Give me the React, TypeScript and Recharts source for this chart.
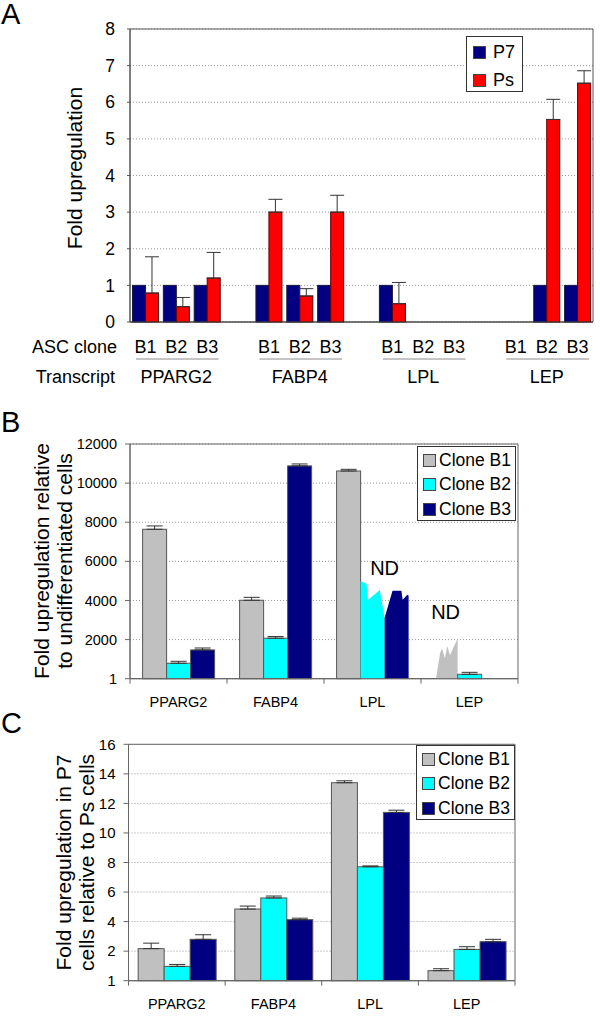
import React from "react";
import {
  BarChart,
  Bar,
  XAxis,
  YAxis,
  CartesianGrid,
  ErrorBar,
  Legend,
  ReferenceArea,
} from "recharts";

const FONT = '"Liberation Sans", Arial, Helvetica, sans-serif';

const transcripts = ["PPARG2", "FABP4", "LPL", "LEP"];
const clones = ["B1", "B2", "B3"];

// Panel A: fold upregulation, P7 vs Ps, per transcript x clone
const p7Fold = [
  [1, 1, 1],
  [1, 1, 1],
  [1, 0, 0],
  [0, 1, 1],
];
const psFold = [
  [0.79, 0.42, 1.2],
  [3.0, 0.71, 3.0],
  [0.5, 0, 0],
  [0, 5.53, 6.52],
];
const psErr = [
  [0.99, 0.25, 0.7],
  [0.35, 0.2, 0.46],
  [0.58, null, null],
  [null, 0.55, 0.34],
];
const aTicks = [0, 1, 2, 3, 4, 5, 6, 7, 8];

// Panel B: relative to undifferentiated cells
const bClone1 = [7640, 4010, 10620, 2070];
const bClone2 = [790, 2070, 5000, 225];
const bClone3 = [1470, 10880, 4500, 0];
const bErr1 = [170, 150, 85, null];
const bErr2 = [100, 85, null, 100];
const bErr3 = [100, 100, null, null];
const bNotDetected = [
  [false, false, false],
  [false, false, false],
  [false, true, true],
  [true, false, false],
];
const bTicks = [0, 2000, 4000, 6000, 8000, 10000, 12000];
const bTickLabels = ["1", "2000", "4000", "6000", "8000", "10000", "12000"];

// Panel C: P7 relative to Ps cells
const cClone1 = [2.17, 4.85, 13.4, 0.68];
const cClone2 = [0.97, 5.6, 7.71, 2.12];
const cClone3 = [2.8, 4.13, 11.39, 2.64];
const cErr1 = [0.37, 0.2, 0.13, 0.13];
const cErr2 = [0.13, 0.13, 0.06, 0.18];
const cErr3 = [0.31, 0.1, 0.15, 0.16];
const cTicks = [0, 2, 4, 6, 8, 10, 12, 14, 16];
const cTickLabels = ["1", "2", "4", "6", "8", "10", "12", "14", "16"];

const up = (e: number | null) => (e == null ? null : [0, e]);

const rowsA: any[] = [];
transcripts.forEach((t, ti) => {
  clones.forEach((c, ci) => {
    rowsA.push({
      id: `${t}-${c}`,
      clone: c,
      transcript: t,
      p7: p7Fold[ti][ci],
      ps: psFold[ti][ci],
      psErr: up(psErr[ti][ci]),
    });
  });
  if (ti < transcripts.length - 1)
    rowsA.push({ id: `gap${ti}`, clone: "", transcript: "", p7: null, ps: null, psErr: null });
});

const rowsB = transcripts.map((t, i) => ({
  name: t,
  c1: bClone1[i],
  c2: bClone2[i],
  c3: bClone3[i],
  e1: up(bErr1[i]),
  e2: up(bErr2[i]),
  e3: up(bErr3[i]),
}));

const rowsC = transcripts.map((t, i) => ({
  name: t,
  c1: cClone1[i],
  c2: cClone2[i],
  c3: cClone3[i],
  e1: up(cErr1[i]),
  e2: up(cErr2[i]),
  e3: up(cErr3[i]),
}));

// torn-top outlines for the ND bars (fraction of width, px below top)
const tornTops: Record<string, number[][]> = {
  "LPL-B2": [[0, 0], [0.25, 3], [0.3, 19], [0.8, 9], [1, 37]],
  "LPL-B3": [[0, 27], [0.33, 0], [0.7, 0], [0.75, 9], [0.95, 4], [1, 5]],
  "LEP-B1": [[0.1, 999], [0.27, 15], [0.35, 10], [0.47, 20], [0.57, 8], [0.68, 17], [1, 0]],
};
const ndLift: Record<string, number> = { LPL: 6, LEP: 19 };

const tickFont = { fontFamily: FONT, fill: "#000" };

const ATick = (slot: number) => (props: any) => {
  const { x, y, index } = props;
  const row = rowsA[index];
  if (!row || !row.clone) return null;
  return (
    <g>
      {index === 0 && (
        <>
          <text x={x - slot / 2 - 13} y={y + 25} textAnchor="end" dominantBaseline="central" fontSize={18} {...tickFont}>
            ASC clone
          </text>
          <text x={x - slot / 2 - 15} y={y + 55} textAnchor="end" dominantBaseline="central" fontSize={18} {...tickFont}>
            Transcript
          </text>
        </>
      )}
      <text x={x} y={y + 25} textAnchor="middle" dominantBaseline="central" fontSize={18} {...tickFont}>
        {row.clone}
      </text>
      {row.clone === "B2" && (
        <>
          <line x1={x - 1.5 * slot + 6} x2={x + 1.5 * slot - 4} y1={y + 37} y2={y + 37} stroke="#8a8a8a" />
          <text x={x} y={y + 55} textAnchor="middle" dominantBaseline="central" fontSize={18} {...tickFont}>
            {row.transcript}
          </text>
        </>
      )}
    </g>
  );
};

const GroupTick = (band: number, count: number, dy: number) => (props: any) => {
  const { x, y, payload, index } = props;
  return (
    <g>
      <text x={x} y={y + dy} textAnchor="middle" dominantBaseline="central" fontSize={14.5} {...tickFont}>
        {payload.value}
      </text>
      <line x1={x - band / 2} x2={x - band / 2} y1={y} y2={y + 5} stroke="#666" />
      {index === count - 1 && <line x1={x + band / 2} x2={x + band / 2} y1={y} y2={y + 5} stroke="#666" />}
    </g>
  );
};

const plainBar = (stroke: string) => (props: any) => {
  const { x, y, width, height, fill } = props;
  if (height == null || height < 0) return null;
  return <rect x={x} y={y} width={width} height={height} fill={fill} stroke={stroke} strokeWidth={1} />;
};

const bShape = (ci: number) => (props: any) => {
  const { x, y, width, height, fill, index } = props;
  if (height == null || height < 0) return null;
  if (bNotDetected[index][ci]) {
    const prof = tornTops[`${transcripts[index]}-${clones[ci]}`];
    const pts = prof.map(([fx, d]) => `${x + fx * width},${y + Math.min(d, height)}`);
    pts.push(`${x + width},${y + height}`);
    if (prof[0][1] < 999) pts.push(`${x},${y + height}`);
    return <polygon points={pts.join(" ")} fill={fill} />;
  }
  return <rect x={x} y={y} width={width} height={height} fill={fill} stroke="#555" strokeWidth={1} />;
};

const ndLabel = (ci: number) => (props: any) => {
  const { x, y, width, index } = props;
  const nd = bNotDetected[index];
  if (!nd || !nd[ci] || (ci > 0 && nd[ci - 1])) return null;
  let n = 0;
  while (ci + n < clones.length && nd[ci + n]) n++;
  return (
    <text x={x + (n * width) / 2} y={y - ndLift[transcripts[index]]} textAnchor="middle" fontSize={20} fontFamily={FONT} fill="#000">
      ND
    </text>
  );
};

const legendBox = (w: number, h: number, row: number, padTop: number, padLeft: number, gap: number, fs: number) => (props: any) => {
  const items = props.payload || [];
  return (
    <div
      style={{
        width: w,
        height: h,
        boxSizing: "border-box",
        border: "1px solid #333",
        background: "#fff",
        paddingTop: padTop,
        paddingLeft: padLeft,
        fontFamily: FONT,
        fontSize: fs,
        color: "#000",
      }}
    >
      {items.map((it: any) => (
        <div key={it.value} style={{ display: "flex", alignItems: "center", height: row }}>
          <span
            style={{
              display: "inline-block",
              width: 13,
              height: 13,
              boxSizing: "border-box",
              background: it.color,
              border: "1px solid #444",
              marginRight: gap,
            }}
          />
          <span>{it.value}</span>
        </div>
      ))}
    </div>
  );
};

const yTitle = (lines: string[], xs: number[], cy: number, fs: number) => () => (
  <g>
    {lines.map((l, i) => (
      <text
        key={l}
        x={xs[i]}
        y={cy}
        transform={`rotate(-90, ${xs[i]}, ${cy})`}
        textAnchor="middle"
        dominantBaseline="central"
        fontSize={fs}
        fontFamily={FONT}
        fill="#000"
      >
        {l}
      </text>
    ))}
  </g>
);

const panelLetter = (ch: string, top: number) => (
  <div style={{ position: "absolute", left: 1, top, fontFamily: FONT, fontSize: 29, lineHeight: "29px", color: "#000" }}>
    {ch}
  </div>
);

export default function App() {
  const slotA = (600 - 130 - 7) / rowsA.length;
  const bandB = (600 - 130 - 82) / 4;
  const bandC = (600 - 128.5 - 85) / 4;
  return (
    <div style={{ position: "absolute", left: 0, top: 0, width: 600, height: 1029, background: "#fff", fontFamily: FONT }}>
      {panelLetter("A", 0)}
      {panelLetter("B", 408)}
      {panelLetter("C", 709)}

      <div style={{ position: "absolute", left: 0, top: 0 }}>
        <BarChart width={600} height={400} data={rowsA} margin={{ top: 29, right: 7, left: 88, bottom: 8 }} barCategoryGap="8%" barGap={0}>
          <CartesianGrid vertical={false} stroke="#999" strokeDasharray="1 2" />
          <ReferenceArea y1={0} y2={8} fill="none" stroke="#555" strokeWidth={1} />
          <XAxis dataKey="id" interval={0} tickSize={0} tickMargin={0} height={70} axisLine={{ stroke: "#444" }} tickLine={false} tick={ATick(slotA)} />
          <YAxis
            width={42}
            domain={[0, 8]}
            ticks={aTicks}
            interval={0}
            tickSize={3}
            tickMargin={12}
            axisLine={{ stroke: "#555" }}
            tickLine={{ stroke: "#555" }}
            tick={{ fontSize: 17.5, ...tickFont }}
            label={yTitle(["Fold upregulation"], [74], 168, 21)}
          />
          <Legend layout="vertical" align="center" verticalAlign="middle" wrapperStyle={{ left: 466, top: 36, width: 57, height: 56 }} content={legendBox(57, 56, 28, 1, 6, 7, 18)} />
          <Bar dataKey="p7" name="P7" fill="#000080" shape={plainBar("#1a1a40")} isAnimationActive={false} />
          <Bar dataKey="ps" name="Ps" fill="#FF0000" shape={plainBar("#5a0000")} isAnimationActive={false}>
            <ErrorBar dataKey="psErr" direction="y" width={7} stroke="#333" strokeWidth={1} isAnimationActive={false} />
          </Bar>
        </BarChart>
      </div>

      <div style={{ position: "absolute", left: 0, top: 400 }}>
        <BarChart width={600} height={320} data={rowsB} margin={{ top: 44, right: 82, left: 80, bottom: 6.3 }} barCategoryGap="13%" barGap={0}>
          <CartesianGrid vertical={false} stroke="#999" strokeDasharray="1 2" />
          <ReferenceArea y1={0} y2={12000} fill="none" stroke="#666" strokeWidth={1} />
          <XAxis dataKey="name" interval={0} tickSize={0} tickMargin={0} height={35} axisLine={{ stroke: "#666" }} tickLine={false} tick={GroupTick(bandB, 4, 23)} />
          <YAxis
            width={50}
            domain={[0, 12000]}
            ticks={bTicks}
            interval={0}
            tickSize={5}
            tickMargin={8}
            tickFormatter={(v: number) => bTickLabels[bTicks.indexOf(v)]}
            axisLine={{ stroke: "#666" }}
            tickLine={{ stroke: "#666" }}
            tick={{ fontSize: 14.5, ...tickFont }}
            label={yTitle(["Fold upregulation relative", "to undifferentiated cells"], [41, 64], 161, 21)}
          />
          <Legend layout="vertical" align="center" verticalAlign="middle" wrapperStyle={{ left: 417, top: 46, width: 99, height: 75 }} content={legendBox(99, 75, 24.5, 1, 5, 3, 17.5)} />
          <Bar dataKey="c1" name="Clone B1" fill="#C0C0C0" shape={bShape(0)} label={ndLabel(0)} isAnimationActive={false}>
            <ErrorBar dataKey="e1" direction="y" width={8} stroke="#333" strokeWidth={1} isAnimationActive={false} />
          </Bar>
          <Bar dataKey="c2" name="Clone B2" fill="#00FFFF" shape={bShape(1)} label={ndLabel(1)} isAnimationActive={false}>
            <ErrorBar dataKey="e2" direction="y" width={8} stroke="#333" strokeWidth={1} isAnimationActive={false} />
          </Bar>
          <Bar dataKey="c3" name="Clone B3" fill="#000080" shape={bShape(2)} label={ndLabel(2)} isAnimationActive={false}>
            <ErrorBar dataKey="e3" direction="y" width={8} stroke="#333" strokeWidth={1} isAnimationActive={false} />
          </Bar>
        </BarChart>
      </div>

      <div style={{ position: "absolute", left: 0, top: 720 }}>
        <BarChart width={600} height={309} data={rowsC} margin={{ top: 24.3, right: 85, left: 78.5, bottom: 13.3 }} barCategoryGap="10%" barGap={0}>
          <CartesianGrid vertical={false} stroke="#999" strokeDasharray="1 2" />
          <ReferenceArea y1={0} y2={16} fill="none" stroke="#666" strokeWidth={1} />
          <XAxis dataKey="name" interval={0} tickSize={0} tickMargin={0} height={35} axisLine={{ stroke: "#666" }} tickLine={false} tick={GroupTick(bandC, 4, 23)} />
          <YAxis
            width={50}
            domain={[0, 16]}
            ticks={cTicks}
            interval={0}
            tickSize={5}
            tickMargin={8}
            tickFormatter={(v: number) => cTickLabels[cTicks.indexOf(v)]}
            axisLine={{ stroke: "#666" }}
            tickLine={{ stroke: "#666" }}
            tick={{ fontSize: 15, ...tickFont }}
            label={yTitle(["Fold upregulation in P7", "cells relative to Ps cells"], [63, 86], 142.5, 21)}
          />
          <Legend layout="vertical" align="center" verticalAlign="middle" wrapperStyle={{ left: 416, top: 25, width: 99, height: 75 }} content={legendBox(99, 75, 24.5, 1, 5, 3, 17.5)} />
          <Bar dataKey="c1" name="Clone B1" fill="#C0C0C0" shape={plainBar("#555")} isAnimationActive={false}>
            <ErrorBar dataKey="e1" direction="y" width={8} stroke="#333" strokeWidth={1} isAnimationActive={false} />
          </Bar>
          <Bar dataKey="c2" name="Clone B2" fill="#00FFFF" shape={plainBar("#555")} isAnimationActive={false}>
            <ErrorBar dataKey="e2" direction="y" width={8} stroke="#333" strokeWidth={1} isAnimationActive={false} />
          </Bar>
          <Bar dataKey="c3" name="Clone B3" fill="#000080" shape={plainBar("#555")} isAnimationActive={false}>
            <ErrorBar dataKey="e3" direction="y" width={8} stroke="#333" strokeWidth={1} isAnimationActive={false} />
          </Bar>
        </BarChart>
      </div>
    </div>
  );
}
